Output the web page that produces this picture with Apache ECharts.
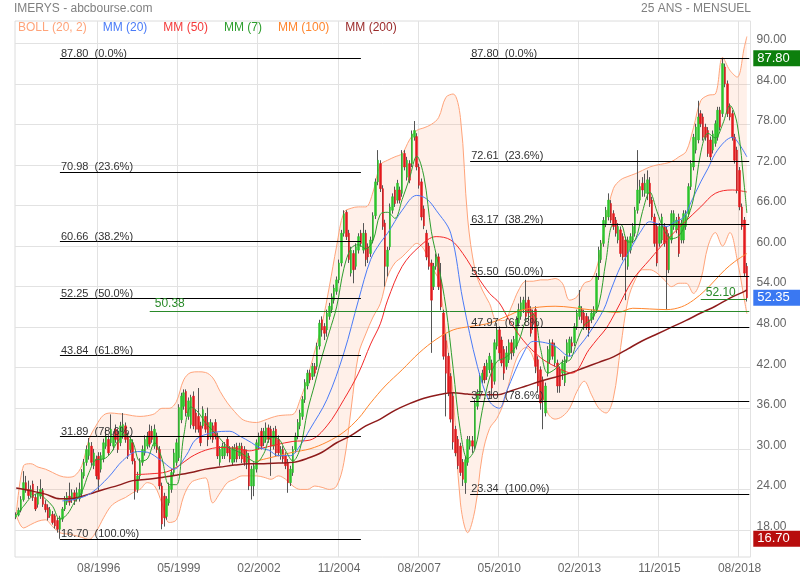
<!DOCTYPE html>
<html><head><meta charset="utf-8">
<script src="https://cdn.jsdelivr.net/npm/echarts@6/dist/echarts.min.js"></script>
<style>html,body{margin:0;padding:0;background:#fff}#c{width:800px;height:580px}</style>
</head><body><div id="c"></div>
<script>
// ---------- categories ----------
const firstYear = 1993, firstMonth = 10, slotCount = 303;
const months = [];
for (let k = 0; k < slotCount; k++) {
  const t = firstMonth - 1 + k;
  months.push(String(t % 12 + 1).padStart(2, '0') + '/' + (firstYear + Math.floor(t / 12)));
}
const xLabels = ['08/1996','05/1999','02/2002','11/2004','08/2007','05/2010','02/2013','11/2015','08/2018'];
const yTicks = [18,24,30,36,42,48,54,60,66,72,78,84,90];

// ---------- monthly candles ----------
const opens = [19.9,20.2,20.9,22.5,25.0,24.0,23.1,24.8,22.8,21.8,
23.0,23.8,21.8,21.3,20.1,20.3,20.1,19.4,18.1,19.6,
21.1,22.1,23.0,22.5,23.5,22.6,22.6,23.4,26.0,28.0,
29.0,30.4,27.5,28.5,28.9,27.0,28.5,30.4,31.4,30.9,
30.4,32.9,32.4,30.9,31.9,33.4,31.9,29.9,30.9,28.2,
24.0,26.0,28.0,29.4,30.4,32.6,32.6,30.4,31.9,29.9,
24.5,23.0,20.0,22.0,24.0,26.5,28.0,28.7,34.3,36.3,
38.5,34.8,33.6,37.8,35.3,34.8,33.4,33.4,34.8,33.9,
31.9,33.4,33.9,31.9,28.0,28.95,29.0,31.4,29.9,28.0,
28.5,30.4,28.95,30.4,29.9,28.0,28.95,24.5,24.5,27.0,
30.4,32.6,30.9,31.4,33.1,32.9,30.4,32.9,31.4,28.9,
29.9,29.0,28.0,25.0,26.5,29.9,31.9,33.4,34.8,37.3,
39.3,41.2,40.7,42.2,42.2,45.2,49.1,48.1,47.6,49.6,
50.6,52.0,53.3,55.0,57.5,61.9,65.0,61.9,56.0,58.9,
57.0,59.4,61.9,59.4,61.9,59.9,58.9,60.9,64.5,69.5,
72.2,68.5,63.4,57.0,59.9,65.3,68.3,66.8,68.3,67.8,
73.7,70.2,72.2,72.2,76.1,76.2,71.7,69.5,65.5,61.9,
60.0,57.5,54.0,57.0,58.4,55.0,50.1,46.0,43.7,40.7,
37.8,32.9,31.4,30.4,28.0,25.0,28.0,30.4,31.2,30.4,
36.3,38.3,40.2,42.2,40.7,41.7,42.7,40.0,45.2,47.6,
46.1,44.7,42.2,43.2,45.7,44.2,45.2,48.6,49.6,50.6,
51.6,52.0,50.6,50.1,50.6,43.2,41.7,40.2,35.3,41.2,
43.2,45.7,42.7,42.7,41.7,41.2,39.8,43.2,44.2,45.7,
45.7,48.1,49.6,50.6,50.1,49.6,49.1,49.1,49.6,50.6,
55.5,58.0,60.4,63.3,64.3,66.3,64.8,63.85,60.9,62.4,
61.4,60.9,57.0,59.4,60.9,61.9,65.3,66.8,69.3,67.8,
67.8,69.3,66.8,64.3,62.9,60.4,60.9,62.9,62.4,56.5,
60.9,62.9,62.4,64.3,60.9,60.9,62.9,64.8,68.8,71.7,
74.2,75.7,79.6,79.1,77.6,77.1,75.7,74.2,75.2,76.1,
80.1,79.6,86.5,84.0,80.6,79.6,76.1,74.2,71.2,65.8,
63.85,57.0];
const closes = [20.2,20.9,22.5,25.0,24.0,23.1,24.0,22.8,21.1,23.5,
24.0,21.8,21.0,19.8,21.0,19.1,18.6,18.1,19.8,21.1,
22.6,23.0,22.1,23.5,22.4,23.5,24.0,26.5,28.0,29.9,
30.9,28.0,29.4,26.0,25.5,29.0,30.9,31.9,29.4,32.9,
31.9,31.4,29.9,33.4,33.6,31.4,28.9,31.4,28.2,23.8,
26.0,28.0,29.9,31.4,31.9,30.7,31.4,32.9,29.9,24.5,
18.9,19.8,22.6,24.5,26.5,29.4,30.9,36.1,37.8,38.3,
35.3,37.1,37.6,33.4,32.9,32.9,30.9,35.8,32.9,31.4,
33.9,31.4,31.9,28.95,29.9,30.4,30.4,29.4,28.5,29.9,
30.2,28.5,30.4,28.5,28.0,29.4,24.5,27.0,27.5,30.9,
31.9,30.4,32.6,33.1,31.4,30.4,32.6,29.4,29.4,29.9,
28.5,27.5,25.0,27.0,29.9,31.9,33.9,35.3,37.3,39.8,
41.2,40.2,42.2,41.2,45.2,48.6,47.6,47.1,50.1,51.1,
52.5,53.8,55.0,57.5,61.9,64.8,61.4,58.0,59.4,56.5,
59.9,61.4,60.4,61.9,58.0,58.4,60.9,64.5,69.5,72.7,
68.5,62.9,57.0,59.4,65.8,67.3,66.3,69.3,66.8,73.7,
71.7,72.7,69.75,76.6,77.1,71.7,69.0,64.3,63.0,58.4,
57.0,52.0,57.0,58.4,54.0,51.0,43.7,41.2,38.3,34.4,
31.0,29.4,27.5,26.5,25.5,28.4,31.4,31.2,30.4,36.8,
38.3,40.7,41.2,40.2,42.7,43.7,39.0,45.7,47.6,44.2,
42.7,41.2,44.2,45.7,44.2,46.2,49.1,50.6,51.6,52.0,
49.6,50.1,47.1,48.6,42.2,39.3,36.8,37.3,39.3,44.7,
45.7,43.7,45.2,39.3,39.3,42.7,43.2,45.7,46.2,45.2,
48.1,50.1,51.1,49.1,48.1,48.1,47.6,50.1,50.6,55.5,
59.4,60.4,63.8,65.3,66.8,63.85,62.9,61.9,62.9,58.9,
58.4,58.4,60.9,61.4,62.9,65.3,68.3,68.8,68.3,69.3,
69.8,66.3,64.3,60.4,57.5,62.9,64.3,60.4,56.5,61.4,
64.8,64.8,63.85,58.9,63.4,64.8,64.8,68.8,72.2,76.1,
77.6,79.1,78.1,76.1,76.1,73.7,73.2,76.6,78.1,80.1,
77.6,87.0,84.0,79.6,79.1,76.1,72.7,68.3,65.8,62.9,
56.0,52.35];
const lows = [19.6,20.0,20.6,22.2,23.5,22.6,22.8,22.3,20.8,21.3,
22.6,21.4,20.6,19.4,19.8,18.8,18.2,17.6,16.7,19.2,
20.8,21.7,21.6,22.0,21.7,22.2,22.2,23.0,25.6,27.5,
28.4,27.5,27.0,25.5,23.8,26.5,28.0,30.0,29.0,30.4,
29.8,30.9,29.4,30.4,31.5,30.9,28.5,29.4,27.7,22.5,
23.5,25.5,27.5,29.0,30.0,30.2,30.9,30.0,29.4,24.0,
18.1,18.5,19.5,21.6,23.5,26.0,27.5,28.2,33.8,35.8,
34.8,34.3,33.0,32.9,32.4,32.4,30.4,33.0,32.4,30.4,
31.4,30.9,31.4,28.5,27.5,28.5,28.5,28.9,28.0,27.5,
28.0,28.0,28.5,27.9,27.5,27.0,23.9,22.5,23.0,26.5,
29.9,29.9,30.4,30.9,30.9,26.0,29.9,28.9,28.9,28.4,
27.9,27.0,23.5,24.5,26.0,29.4,31.4,32.9,34.3,36.8,
38.8,39.7,40.2,40.7,41.7,44.7,46.6,46.1,46.6,49.1,
50.1,51.5,52.8,54.5,57.0,61.4,60.9,57.5,55.5,54.5,
56.5,58.9,59.9,58.9,57.0,57.5,58.4,60.4,64.0,69.0,
68.0,62.4,54.0,55.5,59.4,64.8,65.8,66.3,66.3,67.3,
71.2,69.7,69.3,71.7,75.6,71.2,68.5,63.8,62.5,57.9,
56.5,44.2,53.5,56.5,53.5,50.5,43.2,34.8,37.8,33.9,
29.9,28.9,27.0,26.0,24.5,23.34,27.5,29.9,29.4,29.9,
35.8,37.8,39.7,39.7,40.2,41.2,37.5,39.5,44.7,43.2,
42.2,40.2,41.7,42.7,43.2,43.7,44.7,48.1,49.1,50.1,
49.1,49.1,46.6,47.6,41.2,38.3,35.8,32.9,34.8,40.7,
42.7,43.2,42.2,38.3,38.3,40.2,39.3,42.7,43.7,44.2,
45.2,47.6,49.1,48.6,47.6,47.6,46.6,48.6,49.1,50.1,
55.0,57.5,59.9,62.8,63.8,63.4,62.4,61.4,60.4,58.4,
57.9,52.0,56.5,58.9,60.4,61.4,64.8,66.3,67.3,67.3,
66.8,65.8,63.8,59.9,57.0,59.9,60.4,59.9,50.6,56.0,
60.4,62.4,61.9,58.4,60.4,60.4,62.4,64.3,68.3,71.2,
73.7,75.2,77.6,75.6,75.6,73.2,72.7,73.7,74.7,75.6,
77.1,79.1,83.5,79.1,78.6,75.6,72.2,67.8,65.3,62.4,
55.5,51.8];
const highs = [20.6,21.3,23.0,26.7,26.0,25.3,24.6,25.3,23.3,24.5,
25.5,24.2,22.4,21.8,21.4,20.8,20.4,19.8,20.1,21.4,
23.0,23.6,25.0,24.0,23.9,24.3,25.0,27.0,28.5,30.5,
31.6,31.0,30.0,29.0,29.5,29.5,31.5,32.8,32.0,35.1,
32.6,33.6,33.0,34.0,35.3,33.9,32.4,32.0,31.4,28.6,
26.6,28.6,30.5,32.0,32.5,33.6,33.4,33.6,32.4,30.4,
25.0,23.5,23.0,25.0,27.0,30.0,31.5,36.6,38.3,38.8,
38.8,37.6,38.0,38.5,35.8,39.0,34.0,36.3,35.3,36.1,
34.4,33.9,34.4,32.4,30.4,30.9,31.0,31.9,30.4,30.4,
30.7,30.9,30.9,30.9,30.4,29.9,29.4,27.5,28.0,31.4,
32.4,33.1,33.1,33.9,33.6,33.4,33.1,33.4,32.0,30.4,
30.4,29.5,28.5,27.5,30.4,32.4,34.4,35.8,37.8,40.3,
41.7,41.7,42.7,42.7,45.7,49.1,49.6,48.6,50.6,51.6,
53.0,54.3,55.5,58.0,62.4,65.3,65.3,62.4,59.9,59.4,
60.4,61.9,62.4,63.4,62.4,60.4,61.4,65.0,70.0,74.2,
72.7,69.0,63.9,59.9,66.3,67.8,68.8,69.8,68.8,74.2,
74.2,73.2,72.7,77.1,78.5,76.7,72.2,70.0,66.0,62.4,
60.5,58.0,57.5,58.9,58.9,57.5,50.6,47.1,44.2,41.2,
38.3,33.4,31.9,30.9,28.5,28.9,31.9,31.9,31.9,37.3,
38.8,41.2,41.7,42.7,43.2,44.2,43.2,46.2,48.6,48.1,
46.6,45.2,45.2,46.2,46.2,46.7,49.6,51.5,52.5,52.5,
55.0,52.5,51.1,50.6,51.1,43.7,42.2,40.7,39.8,45.2,
46.2,46.2,45.7,43.2,42.2,43.2,43.7,46.2,46.6,46.6,
48.6,50.6,53.5,51.1,50.6,50.1,49.6,50.6,51.1,56.0,
59.9,60.9,64.3,65.8,67.8,66.8,65.3,64.3,63.4,62.9,
61.9,61.4,61.4,61.9,63.4,65.8,74.2,69.8,70.2,70.7,
71.2,70.2,67.3,64.8,63.4,63.4,64.8,63.4,62.9,61.9,
65.3,65.3,64.3,64.8,63.9,65.3,65.3,69.3,72.7,76.6,
78.1,81.5,80.1,79.6,78.1,77.6,76.2,77.1,78.6,80.6,
80.6,87.8,87.0,84.5,81.1,80.1,76.6,74.7,71.7,66.3,
64.3,57.5];

// ---------- indicators: [month index, value] ----------
const mm7 = [[0,20.2],[3,21.5],[6,22.8],[9,23.4],[12,22.6],[15,21.5],[18,19.6],[21,20.3],[24,22.1],[27,23.6],[30,26.5],[33,28.4],[36,28.5],[39,29.4],[42,31.2],[45,32.1],[48,31.0],[51,28.2],[54,28.5],[57,30.9],[60,28.6],[63,24.7],[66,24.7],[69,31.9],[72,36.2],[75,35.4],[78,33.8],[81,32.7],[84,31.5],[87,30.3],[90,29.8],[93,29.3],[96,28.5],[99,28.0],[102,29.3],[105,31.7],[108,31.5],[111,29.7],[114,28.2],[117,30.1],[120,35.6],[123,39.6],[126,43.7],[129,47.3],[132,51.0],[135,56.7],[138,59.7],[141,60.2],[144,59.6],[147,60.8],[150,64.7],[153,65.0],[156,64.1],[159,66.9],[162,70.0],[165,73.3],[168,70.2],[171,62.2],[174,57.1],[177,51.0],[180,41.9],[183,32.6],[186,28.5],[189,30.0],[192,35.7],[195,40.5],[198,42.9],[201,43.4],[204,44.3],[207,45.9],[210,49.0],[213,49.9],[216,44.8],[219,41.2],[222,41.8],[225,42.9],[228,43.1],[231,45.9],[234,48.3],[237,49.2],[240,51.3],[243,57.9],[246,63.2],[249,63.2],[252,60.6],[255,60.9],[258,65.1],[261,68.0],[264,65.1],[267,62.3],[270,61.1],[273,61.5],[276,63.6],[279,67.0],[282,73.8],[285,76.7],[288,76.0],[291,78.0],[294,80.8],[297,78.1],[300,68.7],[301,64.9]];
const mm20 = [[19,22.3],[25,22.6],[31,23.5],[38,25.8],[44,28.3],[50,29.6],[54,29.5],[60,28.2],[65,27.0],[70,29.0],[74,31.4],[81,32.4],[88,32.6],[92,31.9],[97,30.9],[100,30.2],[104,29.8],[108,29.0],[113,29.0],[117,30.5],[121,32.9],[128,37.3],[135,44.2],[141,52.0],[146,58.0],[150,60.5],[153,61.9],[159,65.3],[165,67.5],[169,67.0],[173,65.3],[179,61.9],[184,52.0],[190,42.2],[195,37.0],[199,36.0],[202,38.5],[209,44.2],[213,45.9],[218,45.7],[222,45.2],[228,43.7],[232,45.2],[236,47.1],[242,50.6],[245,53.5],[249,57.0],[253,59.5],[257,62.0],[261,63.6],[265,63.2],[268,62.9],[271,63.5],[275,64.3],[278,66.5],[282,69.5],[285,71.5],[288,73.7],[292,75.5],[295,76.1],[298,75.0],[301,73.2]];
const mm50 = [[49,26.2],[55,26.3],[62,26.6],[67,27.5],[72,28.8],[78,29.8],[84,30.2],[90,30.1],[96,29.7],[100,30.0],[107,30.6],[114,31.1],[121,31.3],[128,33.4],[135,37.3],[141,41.2],[146,45.5],[150,48.5],[153,52.0],[159,57.0],[166,59.9],[173,61.4],[179,60.9],[184,58.9],[190,55.5],[195,53.0],[199,51.6],[203,49.1],[209,46.0],[216,43.5],[222,42.2],[229,41.2],[236,44.7],[240,46.5],[243,47.8],[247,50.3],[254,55.0],[261,58.0],[268,60.9],[275,63.4],[282,65.8],[288,67.8],[295,68.3],[301,68.0]];
const mm100 = [[99,28.2],[107,28.9],[114,29.5],[121,30.0],[128,31.0],[135,32.5],[141,34.5],[146,36.8],[152,39.3],[159,41.7],[166,44.2],[173,46.2],[180,47.6],[187,48.1],[195,48.6],[202,49.6],[209,50.6],[222,51.1],[236,50.6],[248,50.2],[254,50.8],[261,50.7],[268,50.6],[274,51.0],[279,52.0],[284,53.5],[288,55.0],[292,56.5],[296,57.7],[301,58.9]];
const mm200 = [[0,24.2],[6,23.8],[12,23.3],[18,22.6],[24,22.7],[30,23.3],[36,24.0],[42,24.6],[48,25.3],[54,25.5],[60,25.75],[66,26.1],[72,26.5],[78,27.0],[84,27.3],[90,27.6],[96,27.8],[102,27.8],[108,27.9],[114,28.0],[120,28.6],[126,29.5],[132,30.9],[138,32.0],[144,33.4],[150,34.4],[156,35.7],[162,36.7],[168,37.5],[174,38.0],[180,38.3],[186,38.1],[192,38.0],[198,38.0],[204,38.6],[210,39.3],[216,40.0],[222,40.6],[228,41.2],[234,42.0],[240,42.8],[246,43.6],[252,44.8],[258,46.0],[264,47.0],[270,48.0],[276,49.0],[282,50.1],[288,51.1],[294,52.3],[300,53.3],[301,53.5]];
const bollAt = [0,3,6,9,12,15,18,21,24,27,30,33,36,39,42,45,48,51,54,57,60,63,66,69,72,75,78,81,84,87,90,93,96,99,102,105,108,111,114,117,120,123,126,129,132,135,138,141,144,147,150,153,156,159,162,165,168,171,174,177,180,183,186,189,192,195,198,201,204,207,210,213,216,219,222,225,228,231,234,237,240,243,246,249,252,255,258,261,264,267,270,273,276,279,282,285,288,291,294,297,300,301];
const bollUpper = [20.2,27.5,27.8,27.3,27.0,26.5,26.0,25.8,26.0,27.5,31.4,33.5,35.0,35.3,35.2,35.1,34.9,34.8,34.9,35.2,36.0,36.0,37.0,40.2,41.3,41.4,41.3,40.5,38.5,36.8,35.5,34.4,34.0,33.9,34.2,34.6,34.9,35.0,35.1,37.3,40.5,44.5,48.5,54.0,60.0,65.0,65.6,65.8,65.8,68.0,72.0,72.7,73.2,73.7,75.7,77.1,77.5,78.0,79.0,82.0,82.5,79.0,64.0,56.5,53.5,51.5,49.0,49.0,51.0,53.5,54.8,54.8,55.0,55.0,55.2,54.5,52.0,52.5,54.5,55.0,58.0,64.0,68.5,69.8,70.3,70.7,71.2,71.7,72.0,72.2,72.5,73.2,74.0,77.5,81.5,82.3,82.5,87.9,86.0,85.0,89.5,91.0];
const bollLower = [20.2,18.3,18.8,19.3,19.5,18.5,17.6,17.4,17.2,16.9,16.6,17.8,19.8,21.5,22.3,22.8,23.5,24.0,25.0,24.5,22.0,19.1,19.5,23.0,25.0,25.5,25.7,22.0,23.5,25.0,25.5,26.0,26.0,26.0,25.8,25.5,26.0,25.5,24.5,24.0,24.0,24.5,24.3,24.0,24.5,28.0,36.0,44.0,47.0,49.5,51.5,55.5,57.5,58.4,59.5,60.4,59.5,57.0,55.0,47.0,38.0,22.0,17.6,21.0,29.0,33.0,34.5,37.0,41.0,44.0,45.0,43.5,39.3,35.3,34.4,34.8,36.0,38.5,40.0,38.0,36.0,35.3,37.5,45.0,52.0,55.0,56.5,56.5,56.0,55.0,54.0,54.5,54.5,53.0,55.0,60.0,62.0,60.0,62.0,58.0,52.0,50.0];

// ---------- Fibonacci retracements & marks ----------
const fibPct = ['0.0%','23.6%','38.2%','50.0%','61.8%','78.6%','100.0%'];
const fibLeft = [87.80,70.98,60.66,52.25,43.84,31.89,16.70];
const fibLeftFrom = 18, fibLeftTo = 142;
const fibRight = [87.80,72.61,63.17,55.50,47.97,37.10,23.34];
const fibRightFrom = 187, fibRightTo = 302;
const supportA = 50.38, supportAFrom = 55, supportATo = 302;
const supportB = 52.10, supportBFrom = 282, supportBTo = 301;
const lastClose = 52.35, periodHigh = 87.80, periodLow = 16.70;

// ---------- build ----------
const FONT = 'Arial, "Liberation Sans", sans-serif';
const wickData = opens.map((o, k) => [o, closes[k], lows[k], highs[k]]);
const bodyData = opens.map((o, k) => [o, closes[k], Math.min(o, closes[k]), Math.max(o, closes[k])]);
const lowerData = bollAt.map((x, k) => [x, bollLower[k]]);
const bandData = bollAt.map((x, k) => [x, +(bollUpper[k] - bollLower[k]).toFixed(2)]);

function fibLines(vals, from, to) {
  return vals.map((v, k) => [
    { coord: [from, v], label: { formatter: v.toFixed(2) + '  (' + fibPct[k] + ')' } },
    { coord: [to, v] }
  ]);
}
const fibData = fibLines(fibLeft, fibLeftFrom, fibLeftTo).concat(fibLines(fibRight, fibRightFrom, fibRightTo));
const greenData = [
  [{ coord: [supportAFrom, supportA], label: { formatter: supportA.toFixed(2) } }, { coord: [supportATo, supportA] }],
  [{ coord: [supportBFrom, supportB], label: { formatter: supportB.toFixed(2) } }, { coord: [supportBTo, supportB] }]
];
function tag(v, bg) {
  return [
    { coord: [301, v], lineStyle: { color: 'rgba(0,0,0,0)', width: 1 },
      label: { show: true, position: 'end', distance: 4, formatter: v.toFixed(2), color: '#fff', backgroundColor: bg, opacity: 1,
        fontSize: 13, fontFamily: FONT, padding: [2, 12, 1, 4] } },
    { coord: [302, v] }
  ];
}

const C = {
  boll: '#ffa47a', bollFill: 'rgba(252,160,112,0.22)', mm20: '#4a7bf7', mm50: '#f42a2a', mm7: '#2e9e2e',
  mm100: '#ff862e', mm200: '#8e1b1b', up: '#2cc52c', down: '#e3191c', wick: '#555'
};
const lineBase = { type: 'line', symbol: 'none', smooth: 0.35, silent: true, z: 4 };

const chart = echarts.init(document.getElementById('c'), null, { renderer: 'canvas' });
chart.setOption({
  animation: false,
  backgroundColor: '#fff',
  textStyle: { fontFamily: FONT },
  title: [
    { text: 'IMERYS - abcbourse.com', left: 12, top: 1, padding: [2, 2], textStyle: { fontSize: 12, color: '#808080', fontWeight: 'normal', fontFamily: FONT } },
    { text: '25 ANS - MENSUEL', right: 47, top: 1, padding: [2, 2], textStyle: { fontSize: 12, color: '#808080', fontWeight: 'normal', fontFamily: FONT } }
  ],
  legend: {
    left: 13, top: 20, padding: [2, 0], itemWidth: 0, itemHeight: 0, itemGap: 11, icon: 'none', selectedMode: false,
    textStyle: { fontSize: 12, fontFamily: FONT },
    data: [
      { name: 'BOLL (20, 2)', textStyle: { color: '#ffa47a' } },
      { name: 'MM (20)', textStyle: { color: C.mm20 } },
      { name: 'MM (50)', textStyle: { color: '#f43a3a' } },
      { name: 'MM (7)', textStyle: { color: C.mm7 } },
      { name: 'MM (100)', textStyle: { color: C.mm100 } },
      { name: 'MM (200)', textStyle: { color: '#9a2a2a' } }
    ]
  },
  grid: { left: 15, right: 49.5, top: 21, bottom: 23, show: true, borderColor: '#dcdcdc', borderWidth: 1 },
  xAxis: {
    type: 'category', data: months, boundaryGap: true,
    axisLine: { show: false }, axisTick: { show: false },
    axisLabel: { interval: (i, v) => xLabels.indexOf(v) >= 0, color: '#666', fontSize: 12, margin: 6, fontFamily: FONT },
    splitLine: { show: true, interval: (i, v) => xLabels.indexOf(v) >= 0, lineStyle: { color: '#e2e2e2', width: 1 } }
  },
  yAxis: {
    type: 'value', position: 'right', min: 14.0, max: 93.3, scale: true,
    axisLine: { show: false },
    axisTick: { show: false, customValues: yTicks },
    axisLabel: { customValues: yTicks, formatter: v => v.toFixed(2), color: '#666', fontSize: 12, margin: 6, fontFamily: FONT,
      verticalAlign: 'bottom', lineHeight: 7 },
    splitLine: { show: true, lineStyle: { color: '#e2e2e2', width: 1 } }
  },
  series: [
    { name: 'BOLL (20, 2)', type: 'line', stack: 'boll', symbol: 'none', smooth: 0.35, silent: true, z: 1,
      data: lowerData, lineStyle: { color: C.boll, width: 1 } },
    { name: 'BOLL (20, 2)', type: 'line', stack: 'boll', symbol: 'none', smooth: 0.35, silent: true, z: 1,
      data: bandData, lineStyle: { color: C.boll, width: 1 }, areaStyle: { color: C.bollFill } },
    { name: 'fib', type: 'line', data: [], silent: true, z: 3,
      markLine: { silent: true, symbol: 'none', animation: false,
        lineStyle: { color: '#000', width: 1, type: 'solid' },
        label: { show: true, position: 'insideStartTop', distance: [1, -1], color: '#333', fontSize: 11, fontFamily: FONT },
        data: fibData } },
    { name: 'wicks', type: 'candlestick', data: wickData, barWidth: 1, silent: true, z: 2,
      itemStyle: { color: C.wick, color0: C.wick, borderColor: C.wick, borderColor0: C.wick, borderWidth: 1 } },
    { name: 'bodies', type: 'candlestick', data: bodyData, barWidth: 2, silent: true, z: 2,
      itemStyle: { color: C.up, color0: C.down, borderColor: C.up, borderColor0: C.down, borderWidth: 0.5 } },
    Object.assign({ name: 'MM (200)', data: mm200, lineStyle: { color: C.mm200, width: 1.5 } }, lineBase),
    Object.assign({ name: 'MM (100)', data: mm100, lineStyle: { color: C.mm100, width: 1 } }, lineBase),
    Object.assign({ name: 'MM (50)', data: mm50, lineStyle: { color: C.mm50, width: 1 } }, lineBase),
    Object.assign({ name: 'MM (20)', data: mm20, lineStyle: { color: C.mm20, width: 1 } }, lineBase),
    Object.assign({ name: 'MM (7)', data: mm7, lineStyle: { color: C.mm7, width: 1 } }, lineBase),
    { name: 'marks', type: 'line', data: [], silent: true, z: 5, clip: false,
      markLine: { silent: true, symbol: 'none', animation: false,
        lineStyle: { color: '#2a8a2a', width: 1, type: 'solid' },
        label: { show: true, position: 'insideStartTop', distance: [5, 1], color: '#2a8a2a', fontSize: 12, fontFamily: FONT },
        data: greenData.concat([tag(periodHigh, '#0d7f0d'), tag(lastClose, '#3a78f2'), tag(periodLow, '#b80d0d')]) } }
  ]
});
</script>
</body></html>
